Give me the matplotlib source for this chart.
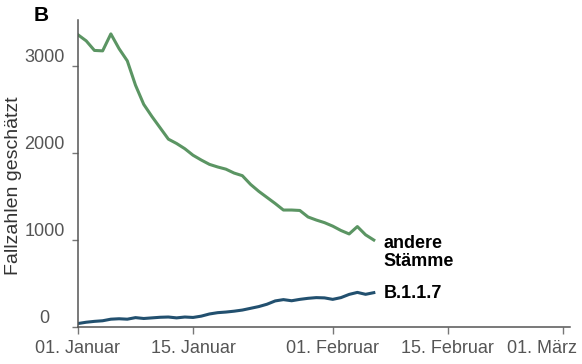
import matplotlib
matplotlib.use("Agg")
import matplotlib.pyplot as plt
import matplotlib.transforms as mtransforms

# Tage ab 01. Januar
tage = list(range(37))
andere = [3360, 3290, 3180, 3175, 3370, 3200, 3060, 2780, 2560, 2420,
          2290, 2160, 2110, 2050, 1975, 1920, 1870, 1840, 1815, 1770,
          1740, 1640, 1560, 1490, 1420, 1345, 1345, 1340, 1265, 1230,
          1200, 1160, 1110, 1070, 1155, 1060, 1000]
b117 = [40, 55, 65, 72, 90, 95, 90, 108, 98, 105,
        112, 115, 105, 115, 110, 125, 150, 165, 172, 182,
        195, 215, 235, 262, 300, 315, 302, 318, 330, 338,
        335, 318, 338, 375, 398, 376, 395]

xticks = [0, 14, 31, 45, 59]
xlabels = ["01. Januar", "15. Januar", "01. Februar", "15. Februar", "01. März"]
yticks = [0, 1000, 2000, 3000]

plt.rcParams['font.family'] = ['Liberation Sans', 'DejaVu Sans']

fig = plt.figure(figsize=(5.82, 3.64), dpi=100)
ax = fig.add_axes([0.134, 0.1016, 0.845, 0.8435])

ax.plot(tage, andere, color='#5b9563', lw=2.2, solid_joinstyle='round')
ax.plot(tage, b117, color='#22506f', lw=2.2, solid_joinstyle='round')

ax.set_xlim(0, 59.85)
ax.set_ylim(0, 3530)

ax.spines['top'].set_visible(False)
ax.spines['right'].set_visible(False)
for s in ['left', 'bottom']:
    ax.spines[s].set_color('#555555')
    ax.spines[s].set_linewidth(1.1)

ax.set_xticks(xticks)
ax.set_xticklabels(xlabels, fontsize=13, color='#555555')
ax.tick_params(axis='x', direction='out', length=5, width=1, color='#777777', pad=4)
# letzte Beschriftung etwas nach links, damit sie ins Bild passt
last = ax.get_xticklabels()[-1]
last.set_transform(last.get_transform() +
                   mtransforms.ScaledTranslation(-0.21, 0, fig.dpi_scale_trans))

ax.set_yticks(yticks)
ax.set_yticklabels([str(v) for v in yticks], fontsize=13, color='#555555')
ax.tick_params(axis='y', direction='out', length=4, width=1, color='#777777', pad=20)
for lbl in ax.get_yticklabels():
    lbl.set_ha('center')
    lbl.set_va('bottom')

ax.set_ylabel("Fallzahlen geschätzt", fontsize=14, color='#333333')
ax.yaxis.set_label_coords(-0.113, 0.46)

ax.text(37.2, 860, "andere\nStämme", fontsize=13, fontweight='bold',
        va='center', ha='left', linespacing=1.1)
ax.text(37.2, 385, "B.1.1.7", fontsize=13, fontweight='bold', va='center', ha='left')

fig.text(0.057, 0.958, "B", fontsize=15, fontweight='bold', va='center', ha='left')

fig.savefig("out.png", dpi=100)
